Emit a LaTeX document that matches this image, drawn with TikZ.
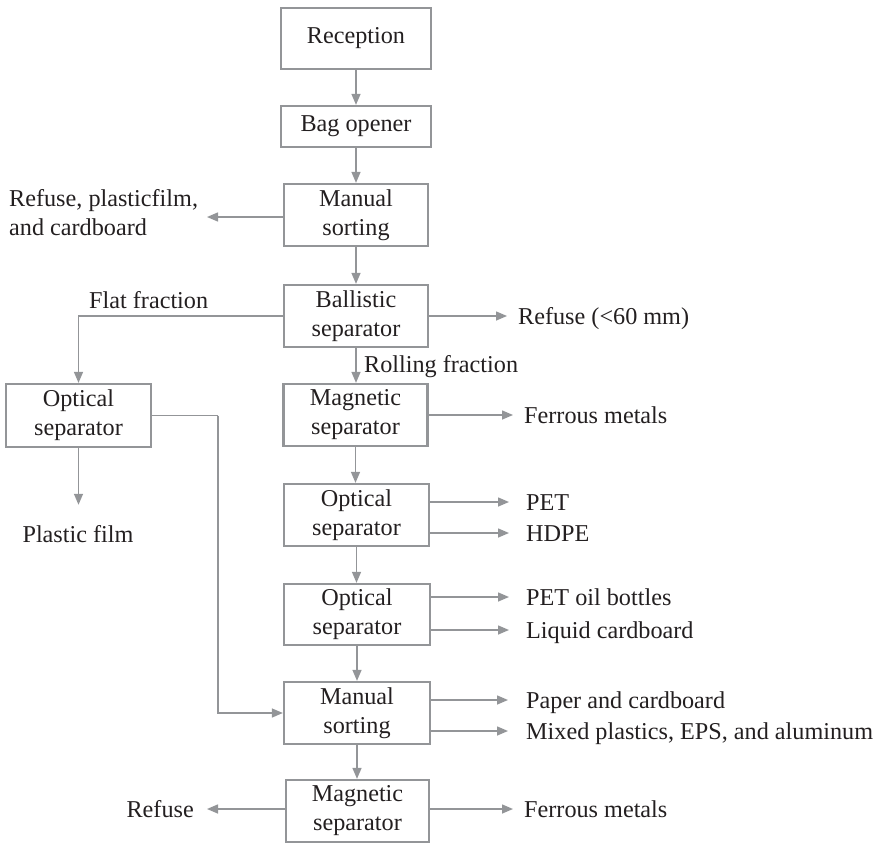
\documentclass[tikz,border=0pt]{standalone}
\usepackage{fontspec}
\setmainfont{Liberation Serif}
\usetikzlibrary{arrows.meta}
\definecolor{linegray}{HTML}{939598}
\definecolor{inkcol}{HTML}{231F20}
\begin{document}
\begin{tikzpicture}[x=1pt,y=-1pt,
  every node/.style={text=inkcol,font=\fontsize{24.2}{29}\selectfont},
  stage/.style={draw=linegray,line width=2.3pt,inner sep=0pt,align=center,
    minimum width=#1},
  stage/.default=144pt,
  outlbl/.style={inner sep=0pt,text height=16pt,text depth=0pt},
  flow/.style={draw=linegray,line width=1.5pt,
    -{Triangle[length=11pt,width=9pt]}},
  link/.style={draw=linegray,line width=1.5pt}]
\useasboundingbox (0,0) rectangle (879,843);

% main line of process stages
\node[stage=150pt,minimum height=61pt] (rec) at (356,38.5) {Reception};
\node[stage=150pt,minimum height=41pt] (bag) at (356,126.5) {Bag opener};
\node[stage,minimum height=62pt] (ms1) at (356,215) {Manual\\sorting};
\node[stage,minimum height=62pt] (bal) at (356,316) {Ballistic\\separator};
\node[stage,minimum height=62pt] (mg1) at (355.5,415) {Magnetic\\separator};
\node[stage=145pt,minimum height=62pt] (op2) at (356.5,515) {Optical\\separator};
\node[stage=146pt,minimum height=61pt] (op3) at (357,614.5) {Optical\\separator};
\node[stage=146pt,minimum height=62pt] (ms2) at (357,713) {Manual\\sorting};
\node[stage=143pt,minimum height=62pt] (mg2) at (357.5,811) {Magnetic\\separator};

% flat-fraction branch
\node[stage=145pt,minimum height=63pt] (ol) at (78.5,415.5) {Optical\\separator};

% stream labels
\node[inner sep=0pt,align=left,anchor=north west] (r1) at (9,189)
  {Refuse, plasticfilm,\\and cardboard};
\node[inner sep=0pt,anchor=base west] (flat) at (89,308) {Flat fraction};
\node[inner sep=0pt,anchor=base west] (roll) at (364,372) {Rolling fraction};
\node[inner sep=0pt,anchor=base] (pf) at (78,542) {Plastic film};

\node[outlbl,anchor=west] (o1) at (518,316) {Refuse (<60 mm)};
\node[outlbl,anchor=west] (o2) at (524,415) {Ferrous metals};
\node[outlbl,anchor=west] (o3) at (526,502) {PET};
\node[outlbl,anchor=west] (o4) at (526,533) {HDPE};
\node[outlbl,anchor=west] (o5) at (526,597) {PET oil bottles};
\node[outlbl,anchor=west] (o6) at (526,630) {Liquid cardboard};
\node[outlbl,anchor=west] (o7) at (526,700) {Paper and cardboard};
\node[outlbl,anchor=west] (o8) at (526,731) {Mixed plastics, EPS, and aluminum};
\node[outlbl,anchor=west] (o9) at (524,809) {Ferrous metals};
\node[outlbl,anchor=east] (o10) at (194,809) {Refuse};

% main vertical flow
\draw[flow] (rec.south) -- (rec.south |- bag.north);
\draw[flow] (bag.south) -- (bag.south |- ms1.north);
\draw[flow] (ms1.south) -- (ms1.south |- bal.north);
\draw[flow] (bal.south) -- (bal.south |- mg1.north);
\draw[flow] (mg1.south) -- (mg1.south |- op2.north);
\draw[flow] (op2.south) -- (op2.south |- op3.north);
\draw[flow] (op3.south) -- (op3.south |- ms2.north);
\draw[flow] (ms2.south) -- (ms2.south |- mg2.north);

% side streams
\coordinate (r1tip) at (207,217);
\draw[flow] (ms1.west |- r1tip) -- (r1tip);
\draw[flow] (bal.west) -| (ol.north);
\draw[flow,shorten >=20pt] (ol.south) -- (ol.south |- pf.north);
\draw[link] (ol.east) -- ++(66,0) coordinate (bend);
\draw[flow] (bend) |- (ms2.west);

\draw[flow,shorten >=11pt] (bal.east |- o1.west) -- (o1.west);
\draw[flow,shorten >=11pt] (mg1.east |- o2.west) -- (o2.west);
\draw[flow,shorten >=17pt] (op2.east |- o3.west) -- (o3.west);
\draw[flow,shorten >=17pt] (op2.east |- o4.west) -- (o4.west);
\draw[flow,shorten >=17pt] (op3.east |- o5.west) -- (o5.west);
\draw[flow,shorten >=17pt] (op3.east |- o6.west) -- (o6.west);
\draw[flow,shorten >=18pt] (ms2.east |- o7.west) -- (o7.west);
\draw[flow,shorten >=18pt] (ms2.east |- o8.west) -- (o8.west);
\draw[flow,shorten >=11pt] (mg2.east |- o9.west) -- (o9.west);
\draw[flow,shorten >=13pt] (mg2.west |- o10.east) -- (o10.east);
\end{tikzpicture}
\end{document}
